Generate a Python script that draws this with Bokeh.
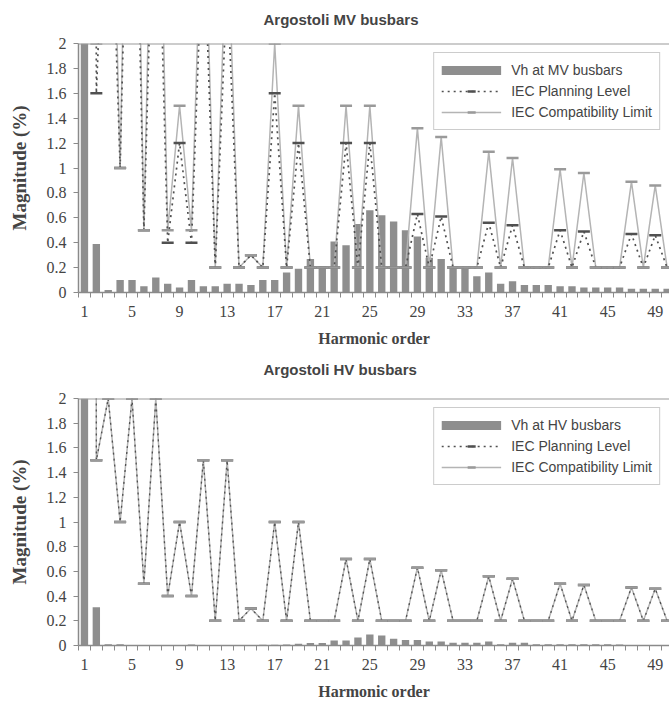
from bokeh.plotting import figure
from bokeh.layouts import column
from bokeh.models import (ColumnDataSource, FixedTicker, Span, Legend, LegendItem,
                          CustomJSTickFormatter, Range1d, Title)
from bokeh.embed import file_html
from bokeh.resources import INLINE

harmonics = list(range(1, 51))
x_tick_labels = [1, 5, 9, 13, 17, 21, 25, 29, 33, 37, 41, 45, 49]
y_ticks = [0, 0.2, 0.4, 0.6, 0.8, 1.0, 1.2, 1.4, 1.6, 1.8, 2.0]

mv_vh = [100, 0.39, 0.02, 0.10, 0.10, 0.05, 0.12, 0.07, 0.04, 0.10,
         0.05, 0.05, 0.07, 0.07, 0.06, 0.10, 0.10, 0.16, 0.19, 0.27,
         0.21, 0.41, 0.38, 0.55, 0.66, 0.62, 0.57, 0.50, 0.45, 0.28,
         0.27, 0.20, 0.19, 0.13, 0.16, 0.07, 0.09, 0.06, 0.06, 0.06,
         0.05, 0.05, 0.04, 0.04, 0.04, 0.04, 0.03, 0.03, 0.03, 0.03]
mv_planning = [100, 1.6, 4, 1, 5, 0.5, 4, 0.4, 1.2, 0.4,
               3, 0.2, 2.5, 0.2, 0.3, 0.2, 1.6, 0.2, 1.2, 0.2,
               0.2, 0.2, 1.2, 0.2, 1.2, 0.2, 0.2, 0.2, 0.63, 0.2,
               0.61, 0.2, 0.2, 0.2, 0.56, 0.2, 0.54, 0.2, 0.2, 0.2,
               0.5, 0.2, 0.49, 0.2, 0.2, 0.2, 0.47, 0.2, 0.46, 0.2]
mv_compat = [100, 2, 5, 1, 6, 0.5, 5, 0.5, 1.5, 0.5,
             3.5, 0.2, 3, 0.2, 0.3, 0.2, 2, 0.2, 1.5, 0.2,
             0.2, 0.2, 1.5, 0.2, 1.5, 0.2, 0.2, 0.2, 1.32, 0.2,
             1.25, 0.2, 0.2, 0.2, 1.13, 0.2, 1.08, 0.2, 0.2, 0.2,
             0.99, 0.2, 0.96, 0.2, 0.2, 0.2, 0.89, 0.2, 0.86, 0.2]

hv_vh = [100, 0.31, 0.01, 0.01, 0.003, 0.003, 0.003, 0.003, 0.003, 0.008,
         0.003, 0.003, 0.003, 0.003, 0.003, 0.006, 0.006, 0.008, 0.015, 0.02,
         0.02, 0.04, 0.04, 0.065, 0.09, 0.08, 0.055, 0.045, 0.045, 0.033,
         0.033, 0.022, 0.022, 0.022, 0.033, 0.01, 0.022, 0.022, 0.01, 0.01,
         0.01, 0.01, 0.01, 0.01, 0.01, 0.008, 0.004, 0.004, 0.004, 0.004]
hv_planning = [100, 1.5, 2, 1, 2, 0.5, 2, 0.4, 1, 0.4,
               1.5, 0.2, 1.5, 0.2, 0.3, 0.2, 1, 0.2, 1, 0.2,
               0.2, 0.2, 0.7, 0.2, 0.7, 0.2, 0.2, 0.2, 0.63, 0.2,
               0.61, 0.2, 0.2, 0.2, 0.56, 0.2, 0.54, 0.2, 0.2, 0.2,
               0.5, 0.2, 0.49, 0.2, 0.2, 0.2, 0.47, 0.2, 0.46, 0.2]
hv_compat = [100, 1.5, 2, 1, 2, 0.5, 2, 0.4, 1, 0.4,
             1.5, 0.2, 1.5, 0.2, 0.3, 0.2, 1, 0.2, 1, 0.2,
             0.2, 0.2, 0.7, 0.2, 0.7, 0.2, 0.2, 0.2, 0.63, 0.2,
             0.61, 0.2, 0.2, 0.2, 0.56, 0.2, 0.54, 0.2, 0.2, 0.2,
             0.5, 0.2, 0.49, 0.2, 0.2, 0.2, 0.47, 0.2, 0.46, 0.2]

BAR = "#8e8e8e"
COMPAT = "#b4b4b4"
PLAN = "#505050"
SERIF = "Liberation Serif"
SANS = "Liberation Sans"


def make_chart(title, vh, planning, compat, bar_label, top, bottom, height,
               spacer, plan_width):
    src = ColumnDataSource(dict(h=harmonics, vh=vh, plan=planning, comp=compat))
    p = figure(width=669, height=height, output_backend="svg", toolbar_location=None,
               x_range=Range1d(0.5, 50.2), y_range=Range1d(0, 2),
               min_border_left=78, min_border_right=0,
               min_border_top=top, min_border_bottom=bottom)
    # invisible spacer between frame and title
    p.add_layout(Title(text=" ", text_font_size="1px", standoff=spacer), "above")
    p.title.text = title
    p.title.text_font = SANS
    p.title.text_font_style = "bold"
    p.title.text_font_size = "15px"
    p.title.align = "left"
    p.title.offset = 185
    p.title.standoff = 2
    p.outline_line_color = None
    p.background_fill_color = "white"
    p.border_fill_color = "white"
    p.xgrid.visible = False
    p.ygrid.visible = False

    p.vbar(x="h", top="vh", width=0.62, source=src, fill_color=BAR, line_color=None)
    cl = p.line("h", "comp", source=src, line_color=COMPAT, line_width=1.5)
    pl = p.line("h", "plan", source=src, line_color=PLAN, line_width=plan_width, line_dash="2 4")
    pm = p.scatter("h", "plan", source=src, marker="dash", size=12, line_color=PLAN, line_width=2.5)
    cm = p.scatter("h", "comp", source=src, marker="dash", size=12, line_color="#9a9a9a", line_width=2.5)

    # hidden legend proxy for the bar series (drawn as a thick short bar in the legend)
    proxy = p.line("h", "vh", source=src, line_color=BAR, line_width=9, visible=False)

    p.add_layout(Span(location=2, dimension="width", line_color="#9a9a9a", line_width=2))

    xa = p.xaxis[0]
    xa.ticker = FixedTicker(ticks=x_tick_labels, minor_ticks=[h - 0.5 for h in harmonics] + [50.5])
    xa.axis_label = "Harmonic order"
    xa.axis_label_text_font = SERIF
    xa.axis_label_text_font_style = "bold"
    xa.axis_label_text_font_size = "16px"
    xa.axis_label_standoff = 10
    xa.major_label_text_font = SERIF
    xa.major_label_text_font_size = "16px"
    xa.major_label_standoff = 8
    xa.major_tick_line_color = None
    xa.major_tick_out = 5
    xa.major_tick_in = 0
    xa.minor_tick_out = 5
    xa.minor_tick_in = 0
    xa.minor_tick_line_color = "#8a8a8a"
    xa.axis_line_color = "#8a8a8a"
    xa.axis_line_width = 1.5

    ya = p.yaxis[0]
    ya.ticker = FixedTicker(ticks=y_ticks)
    ya.formatter = CustomJSTickFormatter(code="return String(Math.round(tick*10)/10);")
    ya.axis_label = "Magnitude (%)"
    ya.axis_label_text_font = SERIF
    ya.axis_label_text_font_style = "bold"
    ya.axis_label_text_font_size = "19px"
    ya.axis_label_standoff = 14
    ya.major_label_text_font = SERIF
    ya.major_label_text_font_size = "16px"
    ya.major_label_standoff = 7
    ya.major_tick_out = 5
    ya.major_tick_in = 0
    ya.major_tick_line_color = "#8a8a8a"
    ya.minor_tick_line_color = None
    ya.axis_line_color = "#8a8a8a"
    ya.axis_line_width = 1.5

    legend = Legend(items=[
        LegendItem(label=bar_label, renderers=[proxy]),
        LegendItem(label="IEC Planning Level", renderers=[pl, pm]),
        LegendItem(label="IEC Compatibility Limit", renderers=[cl, cm]),
    ], location="top_right")
    legend.margin = 9
    legend.padding = 7
    legend.spacing = 1
    legend.glyph_width = 60
    legend.glyph_height = 20
    legend.label_height = 20
    legend.label_standoff = 10
    legend.label_text_font = SANS
    legend.label_text_font_size = "14px"
    legend.border_line_color = "#9a9a9a"
    legend.border_line_width = 1
    legend.background_fill_alpha = 1
    legend.inactive_fill_alpha = 0
    p.add_layout(legend)
    return p


p1 = make_chart("Argostoli MV busbars", mv_vh, mv_planning, mv_compat,
                "Vh at MV busbars", 43, 59, 351, 12, 1.7)
p2 = make_chart("Argostoli HV busbars", hv_vh, hv_planning, hv_compat,
                "Vh at HV busbars", 47, 56, 351, 17, 1.3)

layout = column(p1, p2, spacing=0)
open("out.html", "w").write(file_html(layout, INLINE))
